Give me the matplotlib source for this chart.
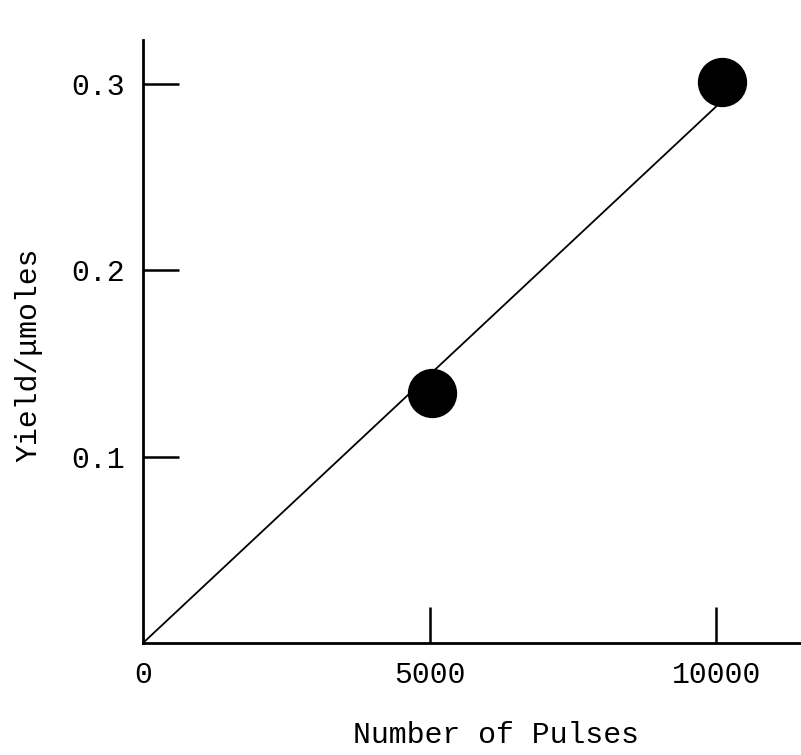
import matplotlib
matplotlib.use("Agg")
import matplotlib.pyplot as plt
import numpy as np

# Measured yields
pulses = [5050, 10100]
yield_umol = [0.134, 0.301]

# Straight-line fit through the origin
fit_x = [0, 10050]
fit_slope = 2.88e-5

x_ticks = [0, 5000, 10000]
x_tick_labels = ["0", "5000", "10000"]
y_ticks = [0.1, 0.2, 0.3]
y_tick_labels = ["0.1", "0.2", "0.3"]

plt.rcParams["font.family"] = ["Liberation Mono", "DejaVu Sans Mono"]

fig = plt.figure(figsize=(8.01, 7.55), dpi=100)
ax = fig.add_axes([143 / 801, 112 / 755, 658 / 801, 603 / 755])

ax.set_xlim(0, 11480)
ax.set_ylim(0, 0.3237)

fx = np.array(fit_x)
ax.plot(fx, fit_slope * fx, color="black", lw=1.3, solid_capstyle="butt", zorder=2)
ax.plot(pulses, yield_umol, "o", color="black", ms=34.5, zorder=3, clip_on=False)

for side in ("top", "right"):
    ax.spines[side].set_visible(False)
for side in ("left", "bottom"):
    ax.spines[side].set_linewidth(2.0)

ax.set_xticks(x_ticks)
ax.set_xticklabels(x_tick_labels)
ax.set_yticks(y_ticks)
ax.set_yticklabels(y_tick_labels)
ax.tick_params(axis="x", direction="in", length=26, width=1.8, labelsize=21.5, pad=13)
ax.tick_params(axis="y", direction="in", length=26, width=1.8, labelsize=21.5, pad=13)
# no tick mark at the origin
ax.xaxis.get_major_ticks()[0].tick1line.set_visible(False)

ax.set_xlabel("Number of Pulses", fontsize=21.5)
ax.xaxis.set_label_coords((496 - 143) / 658, -(735 - 643) / 603)
ax.xaxis.label.set_va("center")
ax.set_ylabel("Yield/μmoles", fontsize=21.5)
ax.yaxis.set_label_coords(-(143 - 28) / 658, (643 - 355) / 603)
ax.yaxis.label.set_va("center")

fig.savefig("out.png", dpi=100)
